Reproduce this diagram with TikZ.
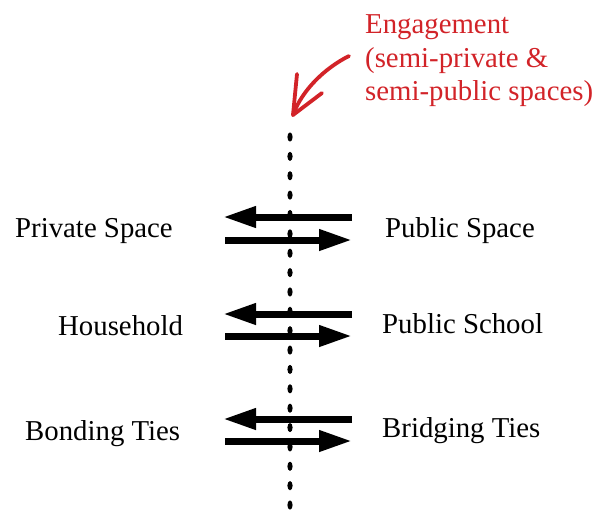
\documentclass[tikz,border=0pt]{standalone}
\usepackage{fontspec}
\setmainfont{Liberation Serif}
\usetikzlibrary{arrows.meta}
\definecolor{engred}{RGB}{210,35,40}
\begin{document}
\begin{tikzpicture}[x=1pt,y=-1pt,
  lbl/.style={anchor=base west,inner sep=0pt,font=\fontsize{28.8}{34}\selectfont},
  redlbl/.style={lbl,text=engred},
  dbl/.style={line width=7pt,-{Triangle[length=33pt,width=20pt]}},
  redstroke/.style={engred,line width=3.8pt,line cap=round,line join=round},
  dotmark/.style={fill=black}]
\useasboundingbox (0,0) rectangle (595,512);
% dotted line
\foreach \i in {0,...,19}{
  \fill[dotmark] (290,{137+19.37*\i}) ellipse [x radius=2.6pt, y radius=4.6pt];
}
% labels
\node[lbl] (priv) at (15,237) {Private Space};
\node[lbl] (pub) at (385,237) {Public Space};
\node[lbl] (house) at (58,335) {Household};
\node[lbl] (school) at (382,333) {Public School};
\node[lbl] (bond) at (25,440) {Bonding Ties};
\node[lbl] (bridge) at (382,437) {Bridging Ties};
% red annotation
\node[redlbl] (eng1) at (365,33) {Engagement};
\node[redlbl] (eng2) at (365,67) {(semi-private \&};
\node[redlbl] (eng3) at (365,100) {semi-public spaces)};
\coordinate (rs) at (349,56);
\coordinate (rt) at (293,115);
\coordinate (wl) at (297,74);
\coordinate (wr) at (322,93);
\draw[redstroke] (rs) .. controls (325,68) and (302,90) .. (rt);
\draw[redstroke] (wl) -- (rt) -- (wr);
% arrow pairs
\foreach \ya/\yb/\n in {217/240/a,314/336/b,419/441/c}{
  \coordinate (L\n1) at (223,\ya);
  \coordinate (R\n1) at (352,\ya);
  \coordinate (L\n2) at (225,\yb);
  \coordinate (R\n2) at (352,\yb);
  \draw[dbl] (R\n1) -- (L\n1);
  \draw[dbl] (L\n2) -- (R\n2);
}
\end{tikzpicture}
\end{document}
